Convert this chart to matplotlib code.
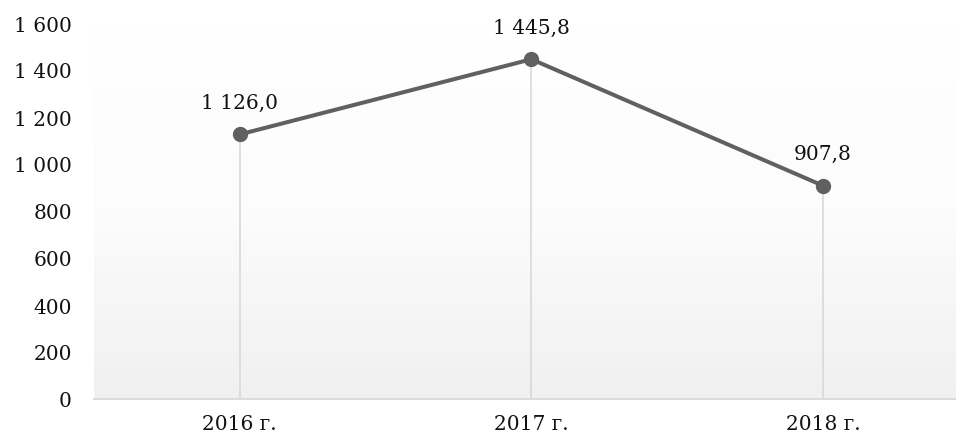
import numpy as np
import matplotlib
matplotlib.use("Agg")
import matplotlib.pyplot as plt
from matplotlib.colors import LinearSegmentedColormap

categories = ["2016 г.", "2017 г.", "2018 г."]
values = [1126.0, 1445.8, 907.8]
yticks = [0, 200, 400, 600, 800, 1000, 1200, 1400, 1600]

def fmt_int(v):
    return f"{int(v):,}".replace(",", " ")

def fmt_dec(v):
    return f"{v:,.1f}".replace(",", " ").replace(".", ",")

plt.rcParams['font.family'] = ['DejaVu Serif']
FS = 14.5

fig = plt.figure(figsize=(9.56, 4.39), dpi=100)
ax = fig.add_axes([94/956, 39/439, 1 - 94/956, (400-24)/439])

x = np.arange(len(categories))
xmax = (956-240)/291.5
ax.set_xlim(-0.5, xmax)

# gradient background (white at top, light grey at bottom)
cmap = LinearSegmentedColormap.from_list("g", ["#ffffff", "#fcfcfc", "#f0f0f0"])
grad = np.linspace(0, 1, 256).reshape(-1, 1)
ax.imshow(grad, cmap=cmap, aspect='auto', extent=[-0.5, xmax, 0, 1600],
          origin='upper', zorder=0)
ax.set_ylim(0, 1600)

# drop lines
ax.vlines(x, 0, values, colors="#d9d9d9", linewidth=1.2, zorder=1)

ax.plot(x, values, color="#606060", linewidth=2.9, marker='o', markersize=10,
        markerfacecolor="#606060", markeredgecolor="#606060", zorder=3)

for xi, v in zip(x, values):
    ax.annotate(fmt_dec(v), (xi, v), xytext=(0, 23), textcoords='offset points',
                ha='center', va='center', fontsize=FS, color='#111111')

ax.set_xticks(x)
ax.set_xticklabels(categories, fontsize=FS)
ax.set_yticks(yticks)
ax.set_yticklabels([fmt_int(t) for t in yticks], fontsize=FS)
ax.tick_params(axis='both', length=0, colors='#111111')
ax.tick_params(axis='y', pad=16)
ax.tick_params(axis='x', pad=11)

for s in ['top', 'right', 'left']:
    ax.spines[s].set_visible(False)
ax.spines['bottom'].set_color('#d9d9d9')
ax.spines['bottom'].set_linewidth(1.3)
ax.spines['bottom'].set_zorder(2)

fig.savefig("out.png", dpi=100)
